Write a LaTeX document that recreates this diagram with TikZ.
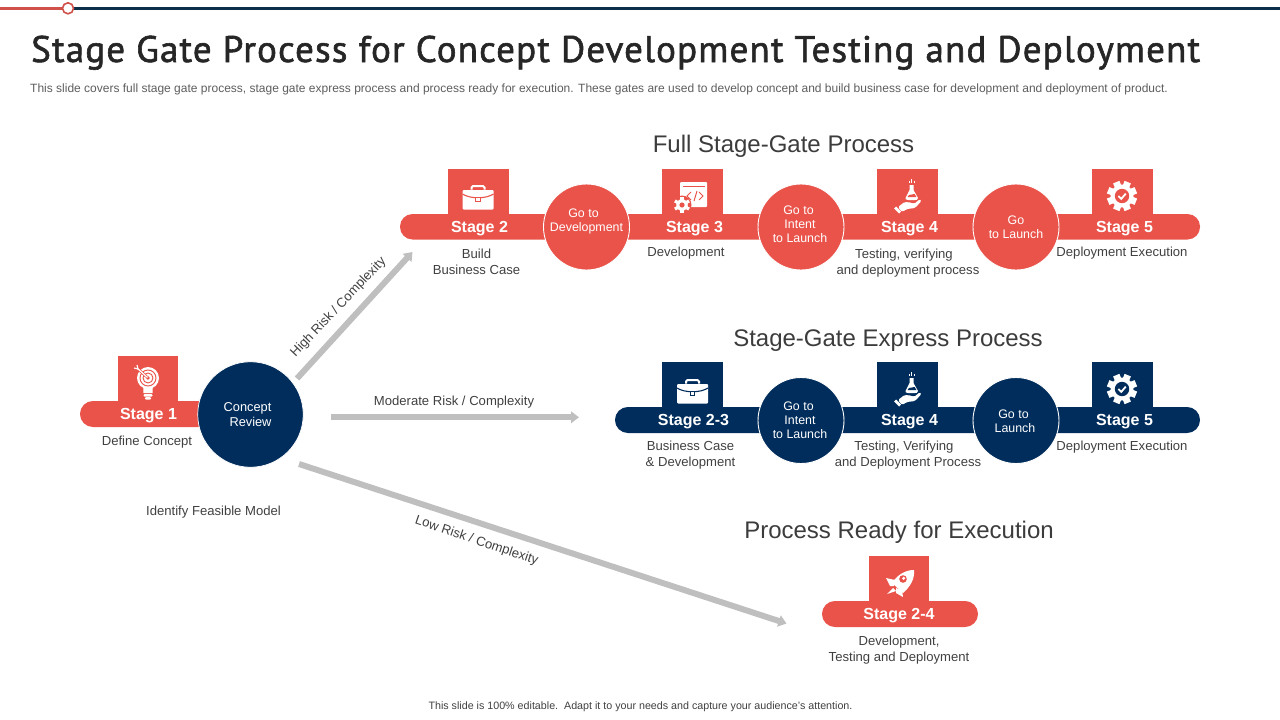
\documentclass[tikz,border=0pt]{standalone}
\usepackage{fontspec}
\usetikzlibrary{arrows.meta}
\setmainfont{Liberation Sans}
\newfontfamily\titlefont[LetterSpace=3.2,FakeBold=1.6]{PT Sans}
\definecolor{bred}{HTML}{E9534A}
\definecolor{bnavy}{HTML}{002D5B}
\definecolor{topnavy}{HTML}{0B2F48}
\definecolor{topred}{HTML}{D0504A}
\definecolor{flowgray}{HTML}{BFBFBF}
\definecolor{txt}{HTML}{404040}
\definecolor{titlecol}{HTML}{262626}
\tikzset{
  x=1pt,y=-1pt,
  gatecirc/.style={circle,draw=white,line width=0.9pt,inner sep=0pt,minimum size=86pt},
  gatetxt/.style={align=center,text=white,font=\fontsize{12.4}{14}\selectfont,inner sep=0pt},
  stagetxt/.style={text=white,font=\fontsize{16}{18}\selectfont\bfseries,inner sep=0pt},
  desc/.style={text=txt,font=\fontsize{13.1}{16}\selectfont,align=center,inner sep=0pt},
  head/.style={text=titlecol!90!white,font=\fontsize{24}{28}\selectfont,inner sep=0pt},
  risk/.style={text=txt,font=\fontsize{13.1}{15}\selectfont,inner sep=0pt},
  flow/.style={draw=flowgray,line width=6pt,-{Triangle[length=8pt,width=11.5pt]}},
}
% --- icons, local origin at icon centre
\newcommand{\iconcase}[3]{\begin{scope}[shift={(#1,#2)}]
  \fill[white,rounded corners=1pt] (-15.5,-7) rectangle (15.5,12.5);
  \draw[white,line width=2pt,rounded corners=1.5pt] (-6.5,-7.5) -- (-6.5,-11) -- (6.5,-11) -- (6.5,-7.5);
  \draw[#3,line width=1.1pt] (-15.5,-3) .. controls (-8,2) and (8,2) .. (15.5,-3);
  \fill[white,draw=#3,line width=0.8pt] (-2.2,0) rectangle (2.2,4.5);
\end{scope}}
\newcommand{\icongear}[3]{\begin{scope}[shift={(#1,#2)}]
  \foreach \a in {0,45,...,315}{\fill[white,rotate=\a+22.5] (-3.4,-15) rectangle (3.4,-8);}
  \fill[white] (0,0) circle (11.5pt);
  \fill[#3] (0,0) circle (7.2pt);
  \draw[white,line width=1.8pt] (-3.6,0) -- (-0.8,2.9) -- (3.8,-2.4);
\end{scope}}
\newcommand{\iconcode}[3]{\begin{scope}[shift={(#1,#2)}]
  \fill[white,rounded corners=1pt] (-14,-13) rectangle (13,12);
  \fill[#3] (-11.5,-8.6) rectangle (11,-7.6);
  \draw[#3,line width=1pt] (-3,-3) -- (-7,1) -- (-3,5) (0,6) -- (3,-4) (5,-3) -- (9,1) -- (5,5);
  \fill[#3] (-12,10) circle (9.5pt);
  \foreach \a in {0,60,...,300}{\fill[white,rotate around={\a:(-12,10)}] (-13.6,1.8) rectangle (-10.4,5);}
  \fill[white] (-12,10) circle (5.8pt);
  \fill[#3] (-12,10) circle (2.6pt);
\end{scope}}
\newcommand{\iconflask}[3]{\begin{scope}[shift={(#1,#2)}]
  \fill[white] (1.5,-12) -- (5.5,-12) -- (5.5,-7) -- (10,1) .. controls (10,3) and (8,3) .. (7,3) -- (0,3) .. controls (-2,3) and (-3,2) .. (-2.5,1) -- (1.5,-7) -- cycle;
  \fill[#3] (1,-2) -- (6.6,-3) -- (8.4,0) -- (-0.4,0) -- cycle;
  \fill[white] (0.5,-16.5) rectangle (1.5,-14);
  \fill[white] (3,-18) rectangle (4,-14);
  \fill[white] (6,-16.5) rectangle (7,-14);
  \fill[white,rounded corners=1.5pt] (-10,10) -- (-3.5,5) -- (3,5.5) -- (6,7) -- (12,2) -- (13.5,4) -- (7,11) -- (-1,12) -- (-6,15) -- cycle;
  \fill[white] (-14,11.5) -- (-12,9.5) -- (-7,14.5) -- (-9,16.5) -- cycle;
\end{scope}}
\newcommand{\iconbulb}[3]{\begin{scope}[shift={(#1,#2)}]
  \fill[white] (-1,-2) circle (11pt);
  \fill[white] (-6,3) -- (4,3) -- (3.5,13) -- (-5.5,13) -- cycle;
  \fill[white,rounded corners=1pt] (-5.5,14) rectangle (3.5,16.5);
  \fill[white,rounded corners=1pt] (-4,17.2) rectangle (2,19.5);
  \draw[#3,line width=0.9pt] (-1,-2) circle (8pt) (-1,-2) circle (5pt);
  \fill[#3] (-1,-2) circle (1.8pt);
  \draw[#3,line width=2.6pt] (-11,-11) -- (-1.5,-2.5);
  \draw[white,line width=1.2pt] (-12,-12) -- (-1.5,-2.5);
  \draw[white,line width=1.2pt] (-15,-12) -- (-11,-11) -- (-12,-15);
\end{scope}}
\newcommand{\iconrocket}[3]{\begin{scope}[shift={(#1,#2)}]
  \fill[white] (15,-13) .. controls (16,-4) and (11,4) .. (4,10) -- (-7,0) .. controls (-1,-9) and (7,-13) .. (15,-13) -- cycle;
  \fill[white] (-4,-3) -- (-13,-5) -- (-9,3) -- (-5,3) -- cycle;
  \fill[white] (3,7) -- (4,14) -- (-3,10) -- (-3,5) -- cycle;
  \fill[white] (-6,5) -- (-3,8) -- (-12,11) -- cycle;
  \fill[#3] (4,-4) circle (3.8pt);
  \fill[white] (4.7,-4.7) circle (1.7pt);
\end{scope}}
\begin{document}
\begin{tikzpicture}[x=1pt,y=-1pt]
\useasboundingbox (0,0) rectangle (1280,720);
% top rule
\fill[topnavy] (68,6.8) rectangle (1280,9.8);
\fill[topred] (0,6.8) rectangle (68,9.8);
\node[circle,draw=topred,fill=white,line width=1.6pt,minimum size=11pt,inner sep=0pt] (topdot) at (68,8.3) {};
% title
\node[anchor=base west,inner sep=0pt,text=titlecol,font=\fontsize{37}{40}\selectfont\titlefont] (title) at (31,62) {Stage Gate Process for Concept Development Testing and Deployment};
\node[anchor=base west,inner sep=0pt,text=txt!85!white,font=\fontsize{12}{14}\selectfont] (sub) at (30,92) {This slide covers full stage gate process, stage gate express process and process ready for execution. These gates are used to develop concept and build business case for development and deployment of product.};
% headings
\node[head] (h1) at (783.5,146.5) {Full Stage-Gate Process};
\node[head] (h2) at (888,340.5) {Stage-Gate Express Process};
\node[head] (h3) at (899,532.5) {Process Ready for Execution};
% Stage 1
\fill[bred,rounded corners=12.9pt] (80,401) rectangle (215,427);
\fill[bred] (118,356) rectangle (178,402);
\iconbulb{149}{380}{bred}
\node[stagetxt] (s1) at (148.5,415.5) {Stage 1};
\node[desc] (d1) at (147,442) {Define Concept};
\node[circle,fill=bnavy,draw=white,line width=0.7pt,inner sep=0pt,minimum size=105.5pt,align=center,text=white,font=\fontsize{12.8}{15.5}\selectfont] (concept) at (250.5,414.5) {Concept\hspace*{6pt}\\Review};
\node[desc] (feas) at (213.5,512.5) {Identify Feasible Model};
% Full process
\fill[bred,rounded corners=12.5pt] (400,214) rectangle (1200,239.5);
\foreach \x in {448,662,877,1092}{\fill[bred] (\x,169) rectangle (\x+60.5,215);}
\iconcase{478}{197}{bred}
\iconcode{694}{195}{bred}
\iconflask{908}{197}{bred}
\icongear{1122}{196}{bred}
\node[stagetxt] (a2) at (479.5,228.5) {Stage 2};
\node[stagetxt] (a3) at (694.5,228.5) {Stage 3};
\node[stagetxt] (a4) at (909.5,228.5) {Stage 4};
\node[stagetxt] (a5) at (1124.5,228.5) {Stage 5};
\node[gatecirc,fill=bred] (g1) at (586.5,227) {};
\node[gatecirc,fill=bred] (g2) at (801,227) {};
\node[gatecirc,fill=bred] (g3) at (1016,227) {};
\node[gatetxt] (g1t) at (586.5,221) {Go to\hspace*{6pt}\\Development};
\node[gatetxt] (g2t) at (800,224) {Go to\hspace*{3pt}\\Intent\hspace*{3pt}\\to Launch};
\node[gatetxt] (g3t) at (1016,227.5) {Go\\to Launch};
\node[desc] (t2) at (476.5,262) {Build\\Business Case};
\node[desc] (t3) at (686,253.5) {Development};
\node[desc] (t4) at (908,263) {Testing, verifying\hspace*{8pt}\\and deployment process};
\node[desc] (t5) at (1122,253.5) {Deployment Execution};
% Express process
\fill[bnavy,rounded corners=12.9pt] (615,407) rectangle (1200,433);
\foreach \x in {662,877,1092}{\fill[bnavy] (\x,362) rectangle (\x+60.5,408);}
\iconcase{692.5}{391}{bnavy}
\iconflask{908}{390}{bnavy}
\icongear{1122}{389}{bnavy}
\node[stagetxt] (e2) at (693.5,421.5) {Stage 2-3};
\node[stagetxt] (e4) at (909.5,421.5) {Stage 4};
\node[stagetxt] (e5) at (1124.5,421.5) {Stage 5};
\node[gatecirc,fill=bnavy] (x1) at (801,420.5) {};
\node[gatecirc,fill=bnavy] (x2) at (1016,420.5) {};
\node[gatetxt] (x1t) at (800,420.5) {Go to\hspace*{3pt}\\Intent\hspace*{3pt}\\to Launch};
\node[gatetxt] (x2t) at (1015,421.5) {Go to\hspace*{3pt}\\Launch};
\node[desc] (u2) at (690.5,455.5) {Business Case\\\& Development};
\node[desc] (u4) at (908,455.5) {Testing, Verifying\hspace*{8pt}\\and Deployment Process};
\node[desc] (u5) at (1122,447.5) {Deployment Execution};
% Ready
\fill[bred,rounded corners=12.9pt] (822,601) rectangle (978,627);
\fill[bred] (869,556) rectangle (929,602);
\iconrocket{899}{583}{bred}
\node[stagetxt] (r1) at (899,615.5) {Stage 2-4};
\node[desc] (r2) at (899,650.5) {Development,\\Testing and Deployment};
% connectors
\coordinate (highs) at (297,378.5);
\coordinate (highe) at (412.5,252);
\coordinate (mods) at (331,417.3);
\coordinate (mode) at (579,417.3);
\coordinate (lows) at (299,464);
\coordinate (lowe) at (786.5,623.5);
\draw[flow] (highs) -- (highe);
\draw[flow] (mods) -- (mode);
\draw[flow] (lows) -- (lowe);
\node[risk,rotate=46.5] (lh) at (338.5,307.5) {High Risk / Complexity};
\node[risk] (lm) at (454,402.5) {Moderate Risk / Complexity};
\node[risk,rotate=-18.6] (ll) at (476.5,541) {Low Risk / Complexity};
% footer
\node[inner sep=0pt,text=txt,font=\fontsize{10.7}{12}\selectfont] (foot) at (640.5,707) {This slide is 100\% editable.\ \ Adapt it to your needs and capture your audience's attention.};
\end{tikzpicture}
\end{document}
